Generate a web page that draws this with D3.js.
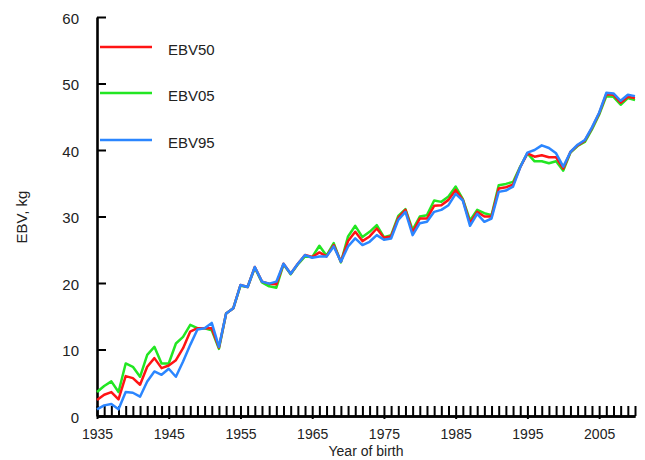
<!DOCTYPE html>
<html>
<head>
<meta charset="utf-8">
<script src="https://cdn.jsdelivr.net/npm/d3@7"></script>
<style>
  body { margin: 0; background: #fff; }
  svg text { font-family: "Liberation Sans", Arial, sans-serif; fill: #222; }
</style>
</head>
<body>
<svg id="chart" width="645" height="460"></svg>
<script>
// data, one value per year of birth 1935..2010
const firstYear = 1935;
const lastYear = 2010;
const labelYears = [1935, 1945, 1955, 1965, 1975, 1985, 1995, 2005];
const yTicks = [0, 10, 20, 30, 40, 50, 60];

const ebv50 = [2.4, 3.2, 3.6, 2.5, 6.0, 5.7, 4.7, 7.4, 8.7, 7.2,
  7.6, 8.4, 10.2, 12.7, 13.2, 13.2, 13.2, 10.3, 15.4, 16.2,
  19.7, 19.4, 22.4, 20.2, 19.9, 19.8, 22.9, 21.4, 22.9, 24.2,
  23.9, 24.6, 24.0, 25.7, 23.2, 26.3, 27.7, 26.3, 27.0, 28.2,
  26.8, 27.0, 29.8, 31.0, 27.6, 29.7, 29.7, 31.6, 31.7, 32.5,
  34.0, 32.5, 29.0, 30.7, 30.0, 30.0, 34.2, 34.4, 34.8, 37.4,
  39.5, 39.0, 39.2, 38.9, 38.9, 37.2, 39.7, 40.7, 41.4, 43.3,
  45.5, 48.4, 48.3, 47.1, 48.0, 47.8];

const ebv05 = [3.6, 4.5, 5.2, 3.6, 7.9, 7.4, 5.9, 9.2, 10.4, 7.9,
  7.9, 10.9, 11.9, 13.7, 13.2, 13.2, 12.9, 10.1, 15.4, 16.2,
  19.6, 19.4, 22.3, 20.1, 19.5, 19.3, 22.8, 21.3, 22.8, 24.0,
  23.9, 25.6, 24.1, 26.0, 23.1, 27.0, 28.6, 26.9, 27.7, 28.7,
  26.9, 27.2, 30.1, 31.1, 28.0, 30.0, 30.2, 32.4, 32.2, 33.0,
  34.5, 32.6, 29.4, 31.0, 30.5, 30.2, 34.7, 34.9, 35.2, 37.5,
  39.5, 38.3, 38.3, 38.0, 38.3, 36.9, 39.6, 40.6, 41.2, 43.1,
  45.3, 48.1, 48.0, 46.8, 47.8, 47.5];

const ebv95 = [1.0, 1.6, 1.8, 1.0, 3.6, 3.5, 2.9, 5.2, 6.7, 6.2,
  7.1, 5.9, 8.2, 10.7, 13.0, 13.2, 14.0, 10.4, 15.4, 16.2,
  19.7, 19.4, 22.4, 20.2, 19.9, 20.2, 22.9, 21.4, 22.9, 24.2,
  23.8, 24.0, 24.0, 25.5, 23.2, 25.5, 26.7, 25.7, 26.2, 27.2,
  26.5, 26.7, 29.5, 30.7, 27.2, 29.0, 29.2, 30.7, 31.0, 31.7,
  33.4, 32.4, 28.6, 30.4, 29.2, 29.7, 33.7, 33.9, 34.5, 37.4,
  39.6, 40.0, 40.7, 40.3, 39.5, 37.5, 39.7, 40.8, 41.5, 43.4,
  45.6, 48.6, 48.5, 47.4, 48.3, 48.1];

const seriesNames = ["EBV50", "EBV05", "EBV95"];
const seriesColors = ["#ff1414", "#22e622", "#2b86ff"];

const years = d3.range(firstYear, lastYear + 1);

const svg = d3.select("#chart");

let x = d3.scaleLinear()
          .domain([firstYear, lastYear])
          .range([97, 635]);
let y = d3.scaleLinear()
          .domain([0, 60])
          .range([416, 17]);

// y axis, ticks pointing into the plot
let yaxis = d3.axisLeft(y)
              .tickValues(yTicks)
              .tickSize(-9)
              .tickSizeOuter(0)
              .tickPadding(18);
let gy = svg.append("g")
  .attr("transform", "translate(97,0)")
  .call(yaxis);

// yearly ticks pointing up
let xminor = d3.axisBottom(x)
               .tickValues(years)
               .tickSize(-10)
               .tickSizeOuter(0)
               .tickFormat("");
let gxm = svg.append("g")
  .attr("transform", "translate(0,416)")
  .call(xminor);

// labelled decades
let xaxis = d3.axisBottom(x)
              .tickValues(labelYears)
              .tickSize(3)
              .tickSizeOuter(0)
              .tickPadding(10)
              .tickFormat(d3.format("d"));
let gx = svg.append("g")
  .attr("transform", "translate(0,416)")
  .call(xaxis);

[gy, gxm, gx].forEach(g => {
  g.select(".domain").attr("stroke", "#000").attr("stroke-width", 2.6);
  g.selectAll(".tick line").attr("stroke", "#000").attr("stroke-width", 2);
  g.selectAll("text")
    .style("font-size", "15px")
    .attr("fill", "#222");
});
gx.selectAll("text").style("font-size", "14px");
gy.selectAll("text").attr("dy", "0.4em");

// axis titles
svg.append("text")
  .attr("x", 366)
  .attr("y", 456)
  .attr("text-anchor", "middle")
  .style("font-size", "14px")
  .text("Year of birth");

svg.append("text")
  .attr("transform", "translate(27,217)rotate(-90)")
  .attr("text-anchor", "middle")
  .style("font-size", "15px")
  .text("EBV, kg");

// lines: green first, red, blue on top
let line = d3.line()
             .x((d, i) => x(years[i]))
             .y(d => y(d));

let drawOrder = [1, 0, 2];
let allSeries = [ebv50, ebv05, ebv95];
drawOrder.forEach(k => {
  svg.append("path")
    .datum(allSeries[k])
    .attr("fill", "none")
    .attr("stroke", seriesColors[k])
    .attr("stroke-width", 2.5)
    .attr("stroke-linejoin", "round")
    .attr("d", line);
});

// legend
let legendY = [47, 93, 140];
let legend = svg.selectAll(".legend")
  .data(seriesNames)
  .enter()
  .append("g")
  .attr("class", "legend")
  .attr("transform", (d, i) => `translate(0,${legendY[i]})`);

legend.append("line")
  .attr("x1", 100)
  .attr("x2", 152)
  .attr("stroke", (d, i) => seriesColors[i])
  .attr("stroke-width", 2.5);

legend.append("text")
  .attr("x", 168)
  .attr("y", 3)
  .attr("dy", "0.35em")
  .style("font-size", "15px")
  .text(d => d);
</script>
</body>
</html>
